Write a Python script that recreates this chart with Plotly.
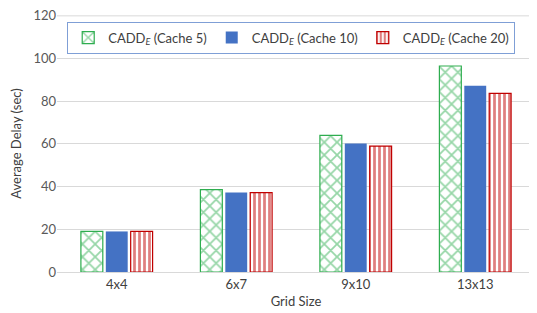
import plotly.graph_objects as go

categories = ["4x4", "6x7", "9x10", "13x13"]
cache5 = [19.0, 38.6, 64.0, 96.5]
cache10 = [19.0, 37.2, 60.2, 87.2]
cache20 = [19.0, 37.2, 59.0, 83.7]
y_ticks = [0, 20, 40, 60, 80, 100, 120]
series_names = ["CADD<sub><i>E</i></sub> (Cache 5)",
                "CADD<sub><i>E</i></sub> (Cache 10)",
                "CADD<sub><i>E</i></sub> (Cache 20)"]

GREEN = "#2EAD4F"
BLUE = "#4472C4"
RED = "#C00000"
FONT = "Lato"

fig = go.Figure()
fig.add_trace(go.Bar(
    x=categories, y=cache5, name=series_names[0],
    marker=dict(color="white", line=dict(color=GREEN, width=1.2),
                pattern=dict(shape="x", fgcolor=GREEN, bgcolor="white",
                             size=9, solidity=0.35, fillmode="overlay")),
))
fig.add_trace(go.Bar(
    x=categories, y=cache10, name=series_names[1],
    marker=dict(color=BLUE, line=dict(color=BLUE, width=0)),
))
fig.add_trace(go.Bar(
    x=categories, y=cache20, name=series_names[2],
    marker=dict(color="white", line=dict(color=RED, width=1.2),
                pattern=dict(shape="|", fgcolor=RED, bgcolor="white",
                             size=5, solidity=0.55, fillmode="overlay")),
))

# top gridline (plotly skips the gridline on the plot edge)
fig.add_shape(type="line", xref="paper", yref="y", x0=0, x1=1,
              y0=y_ticks[-1], y1=y_ticks[-1],
              line=dict(color="#D9D9D9", width=1), layer="below")

# page body has an 8px default margin, so the figure is sized/offset to match
fig.update_layout(
    width=529, height=305,
    margin=dict(l=49, r=2, t=7, b=41),
    paper_bgcolor="white", plot_bgcolor="white",
    barmode="group", bargap=0.375, bargroupgap=0.12,
    font=dict(family=FONT, size=13, color="#595959"),
    showlegend=True,
    legend=dict(
        orientation="h", x=0.49, y=0.912, xanchor="center", yanchor="middle",
        bordercolor="#7F9FD6", borderwidth=1, bgcolor="white",
        font=dict(family=FONT, size=13, color="#404040"),
        itemwidth=30,
    ),
    xaxis=dict(
        title=dict(text="Grid Size", font=dict(size=13, color="#404040"), standoff=6),
        showline=True, linecolor="#D9D9D9", linewidth=1,
        ticks="", tickfont=dict(size=13, color="#404040"), automargin=False,
    ),
    yaxis=dict(
        title=dict(text="Average Delay (sec)", font=dict(size=13, color="#404040"), standoff=10),
        range=[0, 120.4], tickvals=y_ticks,
        showgrid=True, gridcolor="#D9D9D9", gridwidth=1,
        zeroline=False, ticks="", tickfont=dict(size=13, color="#595959"),
        ticklabeloverflow="allow", automargin=False,
    ),
)

fig.write_html("out.html")
